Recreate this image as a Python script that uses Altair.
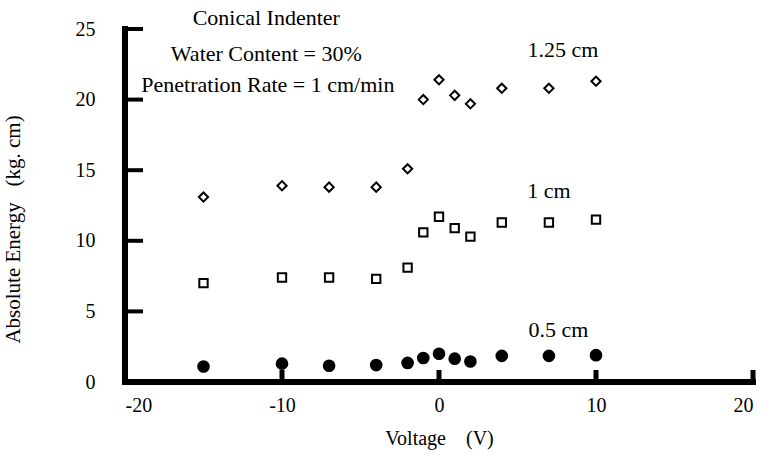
import altair as alt
import pandas as pd

voltage = [-15, -10, -7, -4, -2, -1, 0, 1, 2, 4, 7, 10]
energy_125 = [13.1, 13.9, 13.8, 13.8, 15.1, 20.0, 21.4, 20.3, 19.7, 20.8, 20.8, 21.3]
energy_100 = [7.0, 7.4, 7.4, 7.3, 8.1, 10.6, 11.7, 10.9, 10.3, 11.3, 11.3, 11.5]
energy_050 = [1.1, 1.3, 1.15, 1.2, 1.35, 1.7, 2.0, 1.65, 1.45, 1.85, 1.85, 1.9]

x_ticks = [-20, -10, 0, 10, 20]
y_ticks = [0, 5, 10, 15, 20, 25]

note_texts = ["Conical Indenter", "Water Content = 30%", "Penetration Rate = 1 cm/min"]
note_x = [-11.0, -11.0, -10.9]
note_y = [25.8, 23.2, 21.0]

series_labels = ["1.25 cm", "1 cm", "0.5 cm"]
label_x = [7.9, 7.0, 7.6]
label_y = [23.5, 13.5, 3.7]

FONT = "Liberation Serif"
W, H = 628, 353

xs = alt.Scale(domain=[x_ticks[0], x_ticks[-1]], nice=False, zero=False)
ys = alt.Scale(domain=[y_ticks[0], y_ticks[-1]], nice=False, zero=False)

df125 = pd.DataFrame({"v": voltage, "e": energy_125})
df100 = pd.DataFrame({"v": voltage, "e": energy_100})
df050 = pd.DataFrame({"v": voltage, "e": energy_050})

xaxis = alt.Axis(values=x_ticks, ticks=False, grid=False, domain=False,
                 labelFont=FONT, labelFontSize=20, labelColor="black", labelPadding=13,
                 labelExpr="datum.value + ''",
                 title="Voltage\u00a0\u00a0\u00a0\u00a0(V)", titleFont=FONT, titleFontSize=20,
                 titleFontWeight="normal", titleColor="black", titlePadding=13)
yaxis = alt.Axis(values=y_ticks, ticks=False, grid=False, domain=False,
                 labelFont=FONT, labelFontSize=20, labelColor="black", labelPadding=30,
                 labelExpr="datum.value + ''",
                 title="Absolute Energy\u00a0\u00a0\u00a0(kg. cm)", titleFont=FONT, titleFontSize=21,
                 titleFontWeight="normal", titleColor="black", titleX=-102, titleY=200)

X = lambda f: alt.X(f, scale=xs, axis=xaxis)
Y = lambda f: alt.Y(f, scale=ys, axis=yaxis)

# axis lines (drawn as rules at the scale extents)
xline = alt.Chart(pd.DataFrame({"a": [x_ticks[0]], "b": [x_ticks[-1]], "y": [y_ticks[0]]})).mark_rule(
    color="black", strokeWidth=6, strokeCap="square").encode(x=X("a:Q"), x2="b:Q", y=Y("y:Q"))
yline = alt.Chart(pd.DataFrame({"a": [y_ticks[0]], "b": [y_ticks[-1]], "x": [x_ticks[0]]})).mark_rule(
    color="black", strokeWidth=6, strokeCap="square").encode(y=Y("a:Q"), y2="b:Q", x=X("x:Q"))

diam = alt.Chart(df125).mark_point(shape="diamond", size=85, filled=False, stroke="black",
                                   strokeWidth=2, fill="white", fillOpacity=1, opacity=1).encode(
    x=X("v:Q"), y=Y("e:Q"))
sq = alt.Chart(df100).mark_point(shape="square", size=70, filled=False, stroke="black",
                                 strokeWidth=2, fill="white", fillOpacity=1, opacity=1).encode(
    x=X("v:Q"), y=Y("e:Q"))
circ = alt.Chart(df050).mark_point(shape="circle", size=160, filled=True, color="black",
                                   opacity=1).encode(
    x=X("v:Q"), y=Y("e:Q"))

yt = alt.Chart(pd.DataFrame({"t": y_ticks[1:]})).mark_rule(color="black", strokeWidth=4).encode(
    y=Y("t:Q"), x=alt.value(0), x2=alt.value(18))
xt = alt.Chart(pd.DataFrame({"t": x_ticks[1:]})).mark_rule(color="black", strokeWidth=5).encode(
    x=X("t:Q"), y=alt.value(H), y2=alt.value(H - 12))

notes = alt.Chart(pd.DataFrame({"x": note_x, "y": note_y, "t": note_texts})).mark_text(
    font=FONT, fontSize=22, color="black", align="center", baseline="middle").encode(
    x=X("x:Q"), y=Y("y:Q"), text="t:N")
labels = alt.Chart(pd.DataFrame({"x": label_x, "y": label_y, "t": series_labels})).mark_text(
    font=FONT, fontSize=22, color="black", align="center", baseline="middle").encode(
    x=X("x:Q"), y=Y("y:Q"), text="t:N")

chart = alt.layer(xline, yline, yt, xt, diam, sq, circ, notes, labels).properties(
    width=W, height=H,
    autosize=alt.AutoSizeParams(type="none"),
    padding={"left": 125, "top": 29, "right": 17, "bottom": 79},
    background="white",
).configure_view(stroke=None)

chart.save("out.html", embed_options={"renderer": "svg", "actions": False})
